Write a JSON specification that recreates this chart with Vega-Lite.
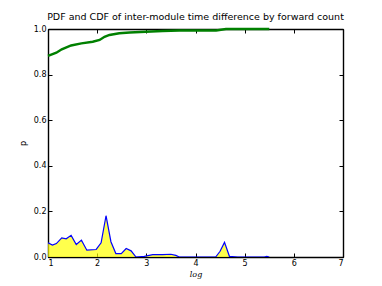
{
  "$schema": "https://vega.github.io/schema/vega-lite/v6.json",
  "autosize": "none",
  "width": 295,
  "height": 228,
  "padding": {"left": 48, "top": 29, "right": 39, "bottom": 29},
  "background": "white",
  "config": {
    "view": {"stroke": "black", "strokeWidth": 1},
    "font": "DejaVu Sans",
    "axis": {"grid": false, "domainColor": "black", "domainWidth": 1.4, "tickColor": "black", "labelColor": "black", "titleColor": "black", "labelFont": "DejaVu Sans", "labelFontSize": 8, "tickSize": -4, "domain": true, "zindex": 1}
  },
  "title": {"text": "PDF and CDF of inter-module time difference by forward count", "fontSize": 9.5, "fontWeight": "normal", "font": "DejaVu Sans", "anchor": "middle", "frame": "group", "offset": 3, "color": "black"},
  "datasets": {
    "pdf": [
      {"x": 1.0, "p": 0.062}, {"x": 1.09, "p": 0.052}, {"x": 1.17, "p": 0.059}, {"x": 1.28, "p": 0.084},
      {"x": 1.37, "p": 0.080}, {"x": 1.47, "p": 0.095}, {"x": 1.575, "p": 0.055}, {"x": 1.68, "p": 0.074},
      {"x": 1.79, "p": 0.030}, {"x": 1.98, "p": 0.033}, {"x": 2.08, "p": 0.062}, {"x": 2.18, "p": 0.181},
      {"x": 2.28, "p": 0.067}, {"x": 2.38, "p": 0.015}, {"x": 2.49, "p": 0.015}, {"x": 2.59, "p": 0.037},
      {"x": 2.69, "p": 0.027}, {"x": 2.79, "p": 0.0}, {"x": 2.96, "p": 0.003}, {"x": 3.13, "p": 0.010},
      {"x": 3.33, "p": 0.010}, {"x": 3.50, "p": 0.012}, {"x": 3.60, "p": 0.007}, {"x": 3.67, "p": 0.0},
      {"x": 4.41, "p": 0.0}, {"x": 4.50, "p": 0.025}, {"x": 4.59, "p": 0.064}, {"x": 4.69, "p": 0.003},
      {"x": 4.86, "p": 0.0}, {"x": 5.40, "p": 0.0}, {"x": 5.45, "p": 0.003}, {"x": 5.50, "p": 0.0}
    ],
    "cdf": [
      {"x": 1.0, "p": 0.882}, {"x": 1.17, "p": 0.896}, {"x": 1.28, "p": 0.911}, {"x": 1.47, "p": 0.928},
      {"x": 1.68, "p": 0.937}, {"x": 1.91, "p": 0.944}, {"x": 2.05, "p": 0.952}, {"x": 2.15, "p": 0.966},
      {"x": 2.25, "p": 0.974}, {"x": 2.45, "p": 0.981}, {"x": 2.66, "p": 0.985}, {"x": 2.99, "p": 0.988},
      {"x": 3.33, "p": 0.991}, {"x": 3.67, "p": 0.993}, {"x": 4.42, "p": 0.993}, {"x": 4.62, "p": 1.0},
      {"x": 5.5, "p": 1.0}
    ]
  },
  "layer": [
    {
      "data": {"name": "pdf"},
      "mark": {"type": "area", "color": "#ffff00", "line": {"color": "#0000ff", "strokeWidth": 1.2}, "clip": true},
      "encoding": {
        "x": {"field": "x", "type": "quantitative", "scale": {"domain": [1, 7], "nice": false, "zero": false},
              "axis": {"orient": "bottom", "values": [1, 2, 3, 4, 5, 6, 7], "format": "d", "title": "log", "titleFont": "DejaVu Serif", "titleFontStyle": "italic", "titleFontWeight": "normal", "titleFontSize": 8, "titlePadding": 3, "labelPadding": 6}},
        "y": {"field": "p", "type": "quantitative", "scale": {"domain": [0, 1], "nice": false},
              "axis": {"orient": "left", "values": [0, 0.2, 0.4, 0.6, 0.8, 1.0], "format": ".1f", "title": "p", "titleFontWeight": "normal", "titleFontSize": 8, "titlePadding": 6, "labelPadding": 6}}
      }
    },
    {
      "data": {"name": "cdf"},
      "mark": {"type": "line", "color": "#008000", "strokeWidth": 2.5},
      "encoding": {
        "x": {"field": "x", "type": "quantitative", "scale": {"domain": [1, 7], "nice": false, "zero": false},
              "axis": {"orient": "top", "values": [1, 2, 3, 4, 5, 6, 7], "labels": false, "title": null}},
        "y": {"field": "p", "type": "quantitative", "scale": {"domain": [0, 1], "nice": false},
              "axis": {"orient": "right", "values": [0, 0.2, 0.4, 0.6, 0.8, 1.0], "labels": false, "title": null}}
      }
    }
  ],
  "resolve": {"axis": {"x": "independent", "y": "independent"}}
}
